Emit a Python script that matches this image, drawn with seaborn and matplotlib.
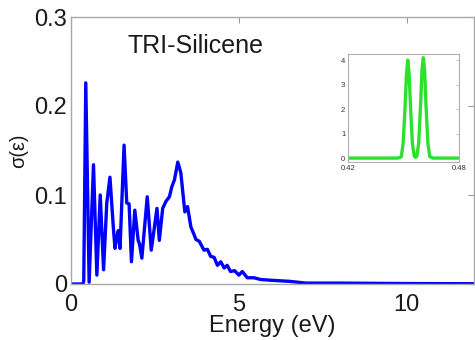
import matplotlib
matplotlib.use("Agg")
import matplotlib.pyplot as plt
import seaborn as sns
import pandas as pd

# Optical conductivity spectrum of TRI-silicene
energy = [0.00, 0.36, 0.38, 0.44, 0.54, 0.67, 0.77, 0.87, 0.97, 1.065, 1.16,
          1.26, 1.31, 1.36, 1.41, 1.46, 1.58, 1.66, 1.73, 1.80, 1.90, 2.00,
          2.04, 2.11, 2.27, 2.39, 2.56, 2.63, 2.73, 2.83, 2.93, 3.00, 3.08,
          3.18, 3.27, 3.39, 3.47, 3.57, 3.67, 3.72, 3.82, 3.96, 4.06, 4.16,
          4.26, 4.36, 4.46, 4.56, 4.65, 4.75, 4.87, 5.00, 5.10, 5.25, 5.45,
          5.65, 6.05, 6.50, 7.00, 8.00, 10.0, 12.0]
sigma = [0.000, 0.000, 0.004, 0.226, 0.002, 0.134, 0.010, 0.100, 0.016, 0.091, 0.120,
         0.064, 0.040, 0.052, 0.060, 0.040, 0.156, 0.091, 0.090, 0.025, 0.083, 0.049,
         0.045, 0.029, 0.098, 0.038, 0.085, 0.049, 0.085, 0.093, 0.098, 0.109, 0.117,
         0.137, 0.125, 0.081, 0.087, 0.064, 0.055, 0.050, 0.048, 0.038, 0.039, 0.031,
         0.030, 0.021, 0.025, 0.018, 0.021, 0.014, 0.015, 0.010, 0.014, 0.007, 0.007,
         0.005, 0.004, 0.003, 0.001, 0.001, 0.0005, 0.0003]

# Zoom on the low-energy double peak
inset_energy = [0.4200, 0.4470, 0.4488, 0.4498, 0.4508, 0.4516, 0.4523, 0.4530,
                0.4538, 0.4548, 0.4558, 0.4565, 0.4572, 0.4582, 0.4592, 0.4600,
                0.4607, 0.4614, 0.4622, 0.4632, 0.4642, 0.4660, 0.4800]
inset_sigma = [0.0, 0.0, 0.05, 0.6, 2.0, 3.4, 4.0, 3.5,
               2.1, 0.6, 0.08, 0.03, 0.08, 0.6, 2.1, 3.6,
               4.1, 3.6, 2.1, 0.6, 0.06, 0.0, 0.0]

main_df = pd.DataFrame({"E": energy, "s": sigma})
inset_df = pd.DataFrame({"E": inset_energy, "s": inset_sigma})

sns.set_style("white")
plt.rcParams["font.family"] = ["Liberation Sans", "DejaVu Sans"]

fig = plt.figure(figsize=(4.75, 3.4), dpi=100)
ax = fig.add_axes([71 / 475, 1 - 284 / 340, 403 / 475, 267 / 340])

sns.lineplot(data=main_df, x="E", y="s", ax=ax, color="#0000ff", lw=2.4)
ax.set_xlim(0, 12)
ax.set_ylim(0, 0.3)
ax.set_xticks([0, 5, 10])
ax.set_xticklabels(["0", "5", "10"])
ax.set_yticks([0, 0.1, 0.2, 0.3])
ax.set_yticklabels(["0", "0.1", "0.2", "0.3"])
ax.tick_params(direction="in", length=4, width=0.8, color="#9a9a9a",
               top=True, right=True, labelsize=17, labelcolor="#1a1a1a")
ax.tick_params(axis="y", pad=3)
ax.tick_params(axis="x", pad=7)
for sp in ax.spines.values():
    sp.set_color("#a8a8a8")
    sp.set_linewidth(1.0)
ax.set_xlabel("Energy (eV)", fontsize=17, color="#1a1a1a", labelpad=-0.5)
ax.set_ylabel("σ(ε)", fontsize=14.5, color="#1a1a1a", labelpad=4)
ax.text(1.68, 0.259, "TRI-Silicene", fontsize=18, color="#1a1a1a",
        ha="left", va="baseline")

ins = fig.add_axes([348 / 475, 1 - 162 / 340, 111 / 475, 108 / 340])
sns.lineplot(data=inset_df, x="E", y="s", ax=ins, color="#2ee02e", lw=2.4)
ins.set_xlim(0.42, 0.48)
ins.set_ylim(-0.16, 4.25)
ins.set_xticks([0.42, 0.48])
ins.set_xticklabels(["0.42", "0.48"])
ins.set_yticks([0, 1, 2, 3, 4])
ins.set_yticklabels(["0", "1", "2", "3", "4"])
ins.tick_params(direction="in", length=2, width=0.5, color="#aaaaaa",
                top=True, right=True, labelsize=5.5, labelcolor="#333333", pad=2)
ins.set_xlabel("")
ins.set_ylabel("")
for sp in ins.spines.values():
    sp.set_color("#b0b0b0")
    sp.set_linewidth(0.8)

fig.savefig("out.png", dpi=100)
